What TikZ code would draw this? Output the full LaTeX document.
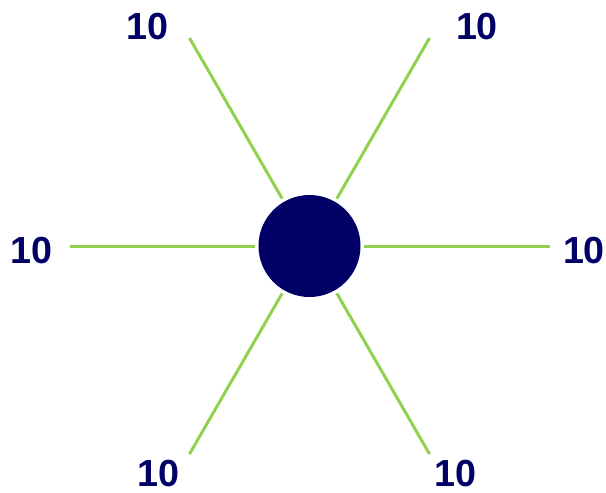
\documentclass[tikz,border=0pt]{standalone}
\usepackage{fontspec}
\setmainfont{Liberation Sans}
\usepackage{xcolor}
\definecolor{navy}{RGB}{0,0,102}
\definecolor{leafgreen}{RGB}{146,208,80}

\begin{document}
\begin{tikzpicture}[x=1pt, y=-1pt,
    spoke/.style={leafgreen, line width=3pt, shorten <=3.5pt},
    weight/.style={navy, font=\fontsize{37.7}{40}\selectfont\bfseries, inner sep=0pt}]
            \useasboundingbox (0,0) rectangle (606,493);
            \node[circle, fill=navy, minimum size=102pt, inner sep=0pt] (hub) at (309.5,246) {};

            \coordinate (tl) at (189.5,38);
            \coordinate (tr) at (429.5,38);
            \coordinate (ml) at (69.5,246);
            \coordinate (mr) at (549.5,246);
            \coordinate (bl) at (189.5,454);
            \coordinate (br) at (429.5,454);

            \draw[spoke] (hub) -- (tl);
            \draw[spoke] (hub) -- (tr);
            \draw[spoke] (hub) -- (ml);
            \draw[spoke] (hub) -- (mr);
            \draw[spoke] (hub) -- (bl);
            \draw[spoke] (hub) -- (br);
            
            \node[weight] (wtl) at (147.5,27) {10};
            \node[weight] (wtr) at (477,27) {10};
            \node[weight] (wml) at (31.5,250.5) {10};
            \node[weight] (wmr) at (584,250.5) {10};
            \node[weight] (wbl) at (158.5,474) {10};
            \node[weight] (wbr) at (455.5,474) {10};
        \end{tikzpicture}
\end{document}
